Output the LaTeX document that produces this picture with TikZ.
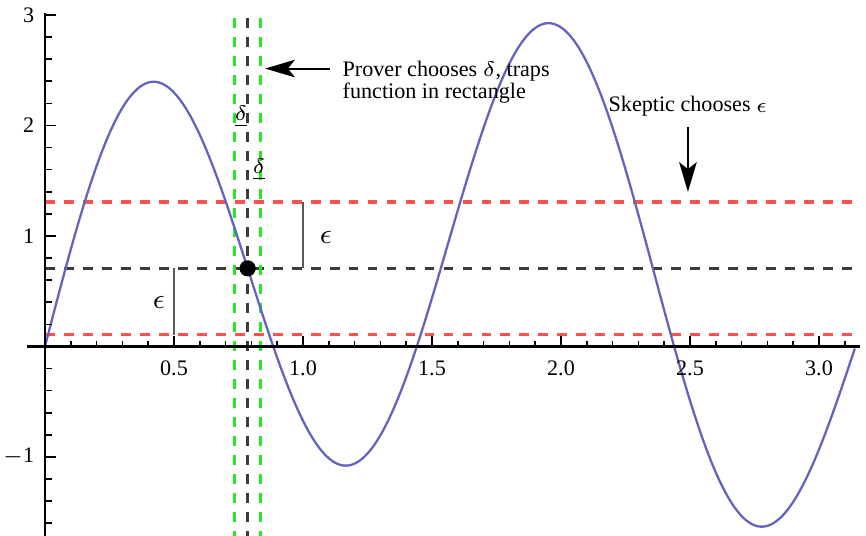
\documentclass[tikz,border=0pt]{standalone}
\usepackage{fontspec}
\setmainfont{Liberation Serif}
\usetikzlibrary{arrows.meta}
\definecolor{curveblue}{RGB}{100,100,190}
\definecolor{dred}{RGB}{255,80,80}
\definecolor{dgreen}{RGB}{40,230,40}
\definecolor{dblack}{RGB}{60,60,60}
\begin{document}
\begin{tikzpicture}[x=2.58cm, y=1.105cm, font=\fontsize{6.3}{6.3}\selectfont,
  axisline/.style={line width=0.6pt},
  tickmark/.style={line width=0.45pt},
  lab/.style={inner sep=0pt},
  plotcurve/.style={curveblue, line width=0.65pt},
  dashline/.style={line width=0.8pt, dash pattern=on 2.8pt off 2.6pt},
  reddash/.style={dashline, dred, line width=0.95pt},
  epsbar/.style={black!65, line width=0.65pt},
  epslab/.style={inner sep=0pt, font=\fontsize{8}{8}\selectfont},
  arr/.style={-{Stealth[length=8.5pt,width=5pt,inset=2pt]}, line width=0.55pt}]
\useasboundingbox (-0.1744,-1.7149) rectangle (3.1822,3.1357);

% dashed guide lines
\draw[reddash] (0,0.1071) -- (3.15,0.1071);
\draw[reddash] (0,1.3071) -- (3.15,1.3071);
\draw[dashline, dblack] (0,0.7071) -- (3.15,0.7071);
\draw[dashline, dgreen] (0.7354,2.97) -- (0.7354,-1.72);
\draw[dashline, dgreen] (0.8354,2.97) -- (0.8354,-1.72);
\draw[dashline, dblack] (0.7854,2.97) -- (0.7854,-1.72);

% epsilon bars
\draw[epsbar] (0.5,0.1071) -- (0.5,0.7071);
\draw[epsbar] (1.0,0.7071) -- (1.0,1.3071);

% curve
\draw[plotcurve] plot[domain=0:3.14159, samples=300, smooth] (\x,{sin(\x r)+2*sin(4*\x r)});

% axes
\draw[axisline] (-0.07,0) -- (3.16,0);
\draw[axisline] (0,-1.72) -- (0,3.02);
\foreach \xx in {0.1,0.2,...,3.15} \draw[tickmark] (\xx,0) -- ++(0,1.7pt);
\foreach \xx in {0.5,1.0,...,3.0} \draw[tickmark] (\xx,0) -- ++(0,3.1pt);
\foreach \yy in {-1.6,-1.4,...,3.05} \draw[tickmark] (0,\yy) -- ++(1.9pt,0);
\foreach \yy in {-1,1,2,3} \draw[tickmark] (0,\yy) -- ++(3.1pt,0);

\foreach \xx/\t [count=\k] in {0.5/0.5,1/1.0,1.5/1.5,2/2.0,2.5/2.5,3/3.0}
  \node[lab, anchor=base] (xl\k) at (\xx,-0.267) {\t};
\foreach \yy/\t [count=\k] in {-1/$-$1,1/1,2/2,3/3}
  \node[lab, anchor=east] (yl\k) at (-0.039,\yy) {\t};

% point
\node[circle, fill=black, inner sep=0pt, minimum size=4.6pt] (pt) at (0.7854,0.7071) {};

% labels
\node[epslab] (e1) at (0.442,0.403) {$\epsilon$};
\node[epslab] (e2) at (1.089,0.991) {$\epsilon$};
\node[lab] (d1) at (0.760,2.08) {\underline{$\delta$}};
\node[lab] (d2) at (0.829,1.60) {\underline{$\delta$}};

\node[lab, anchor=base west] (p1) at (1.151,2.442) {Prover chooses $\delta$, traps};
\node[lab, anchor=base west] (p2) at (1.151,2.240) {function in rectangle};
\coordinate (ptip) at (0.853,2.478);
\draw[arr] ([xshift=-3.4pt]p1.mid west) -- (ptip |- p1.mid west);

\node[lab, anchor=base] (s) at (2.492,2.122) {Skeptic chooses $\epsilon$};
\coordinate (stip) at (2.492,1.398);
\draw[arr] ([yshift=-2.8pt]s.south) -- (stip);
\end{tikzpicture}
\end{document}
